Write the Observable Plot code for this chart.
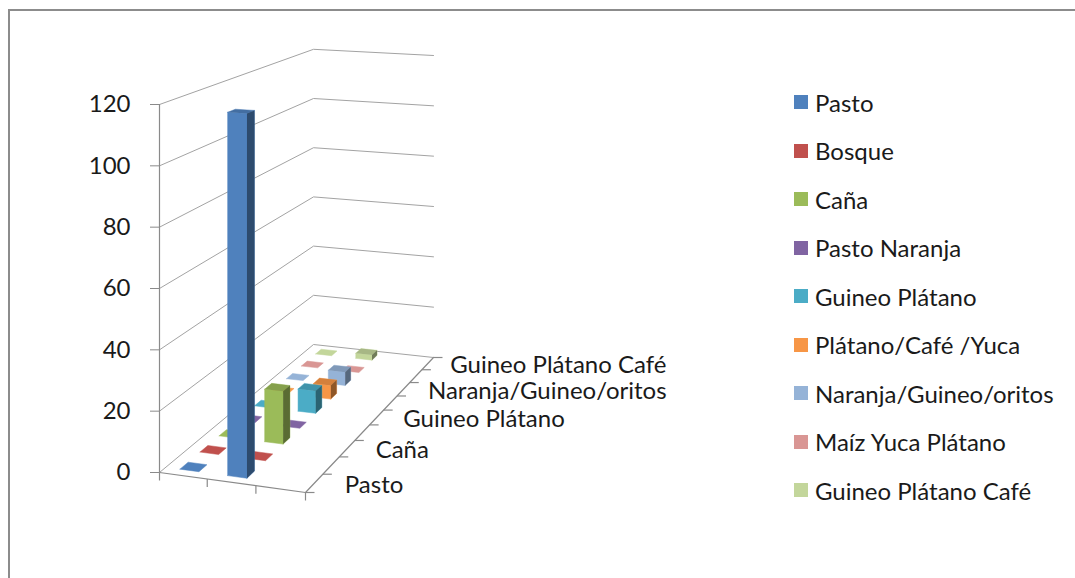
<!DOCTYPE html>
<html>
<head>
<meta charset="utf-8">
<script src="https://cdn.jsdelivr.net/npm/d3@7"></script>
<script src="https://cdn.jsdelivr.net/npm/@observablehq/plot@0.6"></script>
<style>
  html, body { margin: 0; padding: 0; background: #fff; overflow: hidden; }
  #wrap { position: relative; width: 1075px; height: 578px; overflow: hidden; font-family: Lato, sans-serif; }
  #frame { position: absolute; left: 8px; top: 9px; width: 1200px; height: 700px;
           border-left: 2px solid #8c8c8c; border-top: 2px solid #8c8c8c; }
  #chart { position: absolute; left: 0; top: 0; }
  #legend { position: absolute; left: 794px; top: 78px; }
  .lg-swatches { font-family: Lato, sans-serif; font-size: 24px; color: #1a1a1a; margin: 0; }
  .lg-swatch { height: 48.5px; padding: 0 !important; }
  .lg-swatch > svg { margin-right: 7px; }
</style>
</head>
<body>
<div id="wrap">
  <div id="frame"></div>
  <div id="chart"></div>
  <div id="legend"></div>
</div>
<script>
// Land-use series (depth axis), in order from front to back
const series = [
  "Pasto", "Bosque", "Caña", "Pasto Naranja", "Guineo Plátano",
  "Plátano/Café /Yuca", "Naranja/Guineo/oritos", "Maíz Yuca Plátano", "Guineo Plátano Café"
];
const seriesColors = [
  "#4F81BD", "#C0504D", "#9BBB59", "#8064A2", "#4BACC6",
  "#F79646", "#95B3D7", "#D99694", "#C3D69B"
];

// Values for the three (unlabelled) categories along the width axis, one entry per series
const col1 = [0, 0, 0, 0, 0, 0, 0, 0, 0];
const col2 = [118, 0, 18, 0, 8, 5, 5, 0, 2];
const col3 = [null, null, null, null, null, null, null, null, null];
const columns = [col1, col2, col3];

const yTicks = [0, 20, 40, 60, 80, 100, 120];
const depthLabels = ["Pasto", "Caña", "Guineo Plátano", "Naranja/Guineo/oritos", "Guineo Plátano Café"];

// ---- 3-D box projection -------------------------------------------------
// Floor of the box in screen pixels: front-left, front-right, back-right, back-left.
const floorQuad = [[159, 472], [305, 492], [433, 357], [313, 344]];
const yMax = 120;
const frontHeight = 368;              // pixel height of 0..120 at the front-left edge
const unitPx = frontHeight / yMax;

// Unit square -> quad homography (u across categories, t into depth)
const H = (() => {
  const [[x0, y0], [x1, y1], [x2, y2], [x3, y3]] = floorQuad;
  const dx1 = x1 - x2, dx2 = x3 - x2, dx3 = x0 - x1 + x2 - x3;
  const dy1 = y1 - y2, dy2 = y3 - y2, dy3 = y0 - y1 + y2 - y3;
  const den = dx1 * dy2 - dx2 * dy1;
  const g = (dx3 * dy2 - dx2 * dy3) / den;
  const h = (dx1 * dy3 - dx3 * dy1) / den;
  return {
    a: x1 - x0 + g * x1, b: x3 - x0 + h * x3, c: x0,
    d: y1 - y0 + g * y1, e: y3 - y0 + h * y3, f: y0, g, h
  };
})();

// Project (u, t, value) to the plot's x (pixels) and y (value units at the front-left edge)
function proj(u, t, v) {
  const w = H.g * u + H.h * t + 1;
  const x = (H.a * u + H.b * t + H.c) / w;
  const yPx = (H.d * u + H.e * t + H.f) / w;
  return {x, y: (floorQuad[0][1] - yPx) / unitPx + v / w};
}

const nS = series.length, nC = columns.length;
const barFrac = 0.4;  // gap width / gap depth of 150%

function poly(id, key, pts) {
  const out = pts.map(([u, t, v]) => ({face: id, series: key, ...proj(u, t, v)}));
  out.push({...out[0]});
  return out;
}

// ---- marks ------------------------------------------------------------------
const marks = [];
const gridStroke = "#a3a3a3";
const axisStroke = "#8a8a8a";

// Wall gridlines: left wall then back wall
const grid = yTicks.flatMap(v => [
  {v, ...proj(0, 0, v)}, {v, ...proj(0, 1, v)}, {v, ...proj(1, 1, v)}
]);
marks.push(Plot.line(grid, {x: "x", y: "y", z: "v", stroke: gridStroke, strokeWidth: 1}));

// Floor front edge (category axis) and right edge (series axis)
marks.push(Plot.line([proj(0, 0, 0), proj(1, 0, 0)], {x: "x", y: "y", stroke: axisStroke, strokeWidth: 1.2}));
marks.push(Plot.line([proj(1, 0, 0), proj(1, 1, 0)], {x: "x", y: "y", stroke: axisStroke, strokeWidth: 1.2}));

// Category ticks hanging below the front edge
const catTicks = d3.range(nC + 1).map(i => proj(i / nC, 0, 0));
marks.push(Plot.link(catTicks, {x1: "x", y1: "y", x2: "x", y2: d => d.y - 8 / unitPx, stroke: axisStroke, strokeWidth: 1.2}));

// Series ticks to the right of the depth edge
const depthTicks = d3.range(nS + 1).map(i => proj(1, i / nS, 0));
marks.push(Plot.link(depthTicks, {x1: "x", y1: "y", x2: d => d.x + 9, y2: "y", stroke: axisStroke, strokeWidth: 1.2}));

// Value axis line
marks.push(Plot.ruleX([floorQuad[0][0]], {y1: 0, y2: yMax, stroke: axisStroke, strokeWidth: 1.2}));

// Columns, painted back-to-front and left-to-right
for (let s = nS - 1; s >= 0; --s) {
  for (let c = 0; c < nC; ++c) {
    const v = columns[c][s];
    if (v == null) continue;
    const u0 = (c + (1 - barFrac) / 2) / nC, u1 = (c + (1 + barFrac) / 2) / nC;
    const t0 = (s + (1 - barFrac) / 2) / nS, t1 = (s + (1 + barFrac) / 2) / nS;
    const key = series[s];
    const id = `${s}-${c}`;
    const top = poly(id + "t", key, [[u0, t0, v], [u1, t0, v], [u1, t1, v], [u0, t1, v]]);
    const faces = [top];
    let side = null;
    if (v > 0) {
      faces.unshift(poly(id + "f", key, [[u0, t0, 0], [u1, t0, 0], [u1, t0, v], [u0, t0, v]]));
      side = poly(id + "r", key, [[u1, t0, 0], [u1, t1, 0], [u1, t1, v], [u1, t0, v]]);
      faces.push(side);
    }
    marks.push(Plot.line(faces.flat(), {x: "x", y: "y", z: "face", fill: "series", stroke: "series", strokeWidth: 0.5}));
    if (side) marks.push(Plot.line(side, {x: "x", y: "y", z: "face", fill: "black", fillOpacity: 0.42}));
    if (v > 0) marks.push(Plot.line(top, {x: "x", y: "y", z: "face", fill: "black", fillOpacity: 0.14}));
  }
}

// Series labels on the depth axis (every other series); the gap narrows toward the back
const labelAt = d => {
  const t = (series.indexOf(d) + 0.5) / nS;
  const p = proj(1, t, 0);
  return {x: p.x + 31 - 9 * t, y: p.y};
};
marks.push(Plot.text(depthLabels, {
  x: d => labelAt(d).x,
  y: d => labelAt(d).y,
  text: d => d, textAnchor: "start", dy: 2, fontSize: 24, fill: "#1a1a1a"
}));

// Value axis ticks and labels
marks.push(Plot.axisY({ticks: yTicks, tickSize: 9, tickPadding: 20, stroke: axisStroke, fill: "#1a1a1a", fontSize: 24, label: null}));

const chart = Plot.plot({
  width: 1075,
  height: 578,
  marginLeft: floorQuad[0][0],
  marginRight: 0,
  marginTop: floorQuad[0][1] - frontHeight,
  marginBottom: 578 - floorQuad[0][1],
  x: {type: "linear", domain: [floorQuad[0][0], 1075], range: [floorQuad[0][0], 1075], axis: null},
  y: {type: "linear", domain: [0, yMax], range: [floorQuad[0][1], floorQuad[0][1] - frontHeight], axis: null},
  color: {domain: series, range: seriesColors},
  style: {fontFamily: "Lato, sans-serif", fontSize: "24px", color: "#1a1a1a", background: "transparent", overflow: "visible"},
  marks
});
document.getElementById("chart").append(chart);

const legend = Plot.legend({
  color: {domain: series, range: seriesColors},
  legend: "swatches",
  columns: 1,
  swatchSize: 14,
  className: "lg"
});
document.getElementById("legend").append(legend);
</script>
</body>
</html>
